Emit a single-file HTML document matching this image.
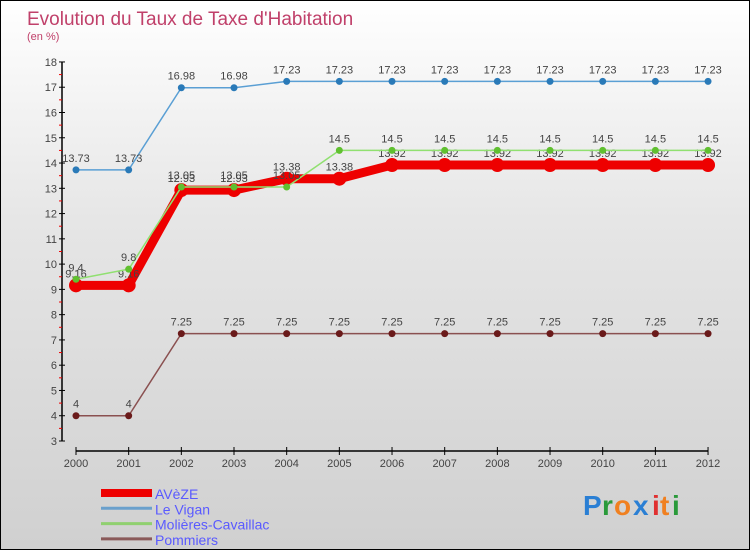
<!DOCTYPE html>
<html><head><meta charset="utf-8"><style>
html,body{margin:0;padding:0}
body{width:750px;height:550px;overflow:hidden;font-family:"Liberation Sans",sans-serif}
#wrap{position:relative;width:748px;height:548px;border:1px solid #000;background:linear-gradient(#ffffff,#e6e6e6 40%,#d0d0d0)}
</style></head><body>
<div id="wrap">
<svg id="chart" width="748" height="548" font-family="Liberation Sans, sans-serif">
<text x="26" y="24" font-size="19" fill="#c0406a">Evolution du Taux de Taxe d'Habitation</text>
<text x="26" y="39" font-size="11" fill="#c0406a">(en %)</text>
<g id="axes"></g><g id="series"></g><g id="legend"></g>
<g font-size="28" font-weight="bold">
<text x="582" y="514" fill="#2a7fd4">P</text><text x="601" y="514" fill="#2a9a3a">r</text><text x="613" y="514" fill="#f08020">o</text><text x="632" y="514" fill="#2a7fd4">x</text><text x="651" y="514" fill="#e03030">i</text><text x="659" y="514" fill="#f08020">t</text><text x="671" y="514" fill="#2a9a3a">i</text>
</g>
</svg>
</div>
<script>
const years=[2000,2001,2002,2003,2004,2005,2006,2007,2008,2009,2010,2011,2012];
const yTicks=[3,4,5,6,7,8,9,10,11,12,13,14,15,16,17,18];
const aveze=[9.16,9.16,12.93,12.93,13.38,13.38,13.92,13.92,13.92,13.92,13.92,13.92,13.92];
const levigan=[13.73,13.73,16.98,16.98,17.23,17.23,17.23,17.23,17.23,17.23,17.23,17.23,17.23];
const molieres=[9.4,9.8,13.05,13.05,13.05,14.5,14.5,14.5,14.5,14.5,14.5,14.5,14.5];
const pommiers=[4,4,7.25,7.25,7.25,7.25,7.25,7.25,7.25,7.25,7.25,7.25,7.25];
const NS='http://www.w3.org/2000/svg';
const xS=i=>75+i*52.67;
const yS=v=>440-(v-3)*25.27;
function mk(t,a,p){const e=document.createElementNS(NS,t);for(const k in a)e.setAttribute(k,a[k]);p.appendChild(e);return e;}
const axes=document.getElementById('axes');
const yAxis=mk('line',{x1:61,y1:yS(18),x2:61,y2:yS(3),stroke:'#000','stroke-width':1.5},axes);


yTicks.forEach(v=>{
 mk('line',{x1:58,y1:yS(v),x2:64,y2:yS(v),stroke:'#000'},axes);
 if(v<18)mk('line',{x1:58,y1:yS(v+0.5),x2:61,y2:yS(v+0.5),stroke:'#e00'},axes);
 const t=mk('text',{x:56,y:yS(v)+4,'font-size':11,fill:'#444','text-anchor':'end'},axes);t.textContent=v;
 
 
});
const xAxis=mk('line',{x1:75,y1:450,x2:707,y2:450,stroke:'#000','stroke-width':1.5},axes);


years.forEach((y,i)=>{
 mk('line',{x1:xS(i),y1:446,x2:xS(i),y2:454,stroke:'#000'},axes);
 const t=mk('text',{x:xS(i),y:466,'font-size':11,fill:'#444','text-anchor':'middle'},axes);t.textContent=y;
 
 
});
const sg=document.getElementById('series');
function series(vals,color,w,r,dot,name){
 const g=mk('g',{},sg);
 
 
 mk('polyline',{points:vals.map((v,i)=>xS(i)+','+yS(v)).join(' '),fill:'none',stroke:color,'stroke-width':w,'stroke-linejoin':'round'},g);
 vals.forEach((v,i)=>{
  const c=mk('circle',{cx:xS(i),cy:yS(v),r:r,fill:dot},g);
  
  
  const t=mk('text',{x:xS(i),y:yS(v)-8,'font-size':11,fill:'#444','text-anchor':'middle'},g);t.textContent=v;
 });
}
series(pommiers,'#8a5050',1.5,3.5,'#6a1a1a','series-pommiers');
series(levigan,'#5a9fd4',1.5,3.5,'#2a7ab8','series-le-vigan');
series(aveze,'#ee0000',9,7,'#ee0000','series-aveze');
series(molieres,'#90e070',1.5,3.5,'#60c030','series-molieres-cavaillac');
const lg=document.getElementById('legend');
[['AVèZE','#ee0000',8],['Le Vigan','#6aa0cc',3],['Molières-Cavaillac','#90d070',3],['Pommiers','#8a5a5a',3]].forEach((d,i)=>{
 const y=492+i*15.3;
 const g=mk('g',{},lg);
 
 
 mk('line',{x1:100,y1:y,x2:151,y2:y,stroke:d[1],'stroke-width':d[2]},g);
 const t=mk('text',{x:154,y:y+6,'font-size':14,fill:'#5a5aff'},g);t.textContent=d[0];
});
</script>
</body></html>
